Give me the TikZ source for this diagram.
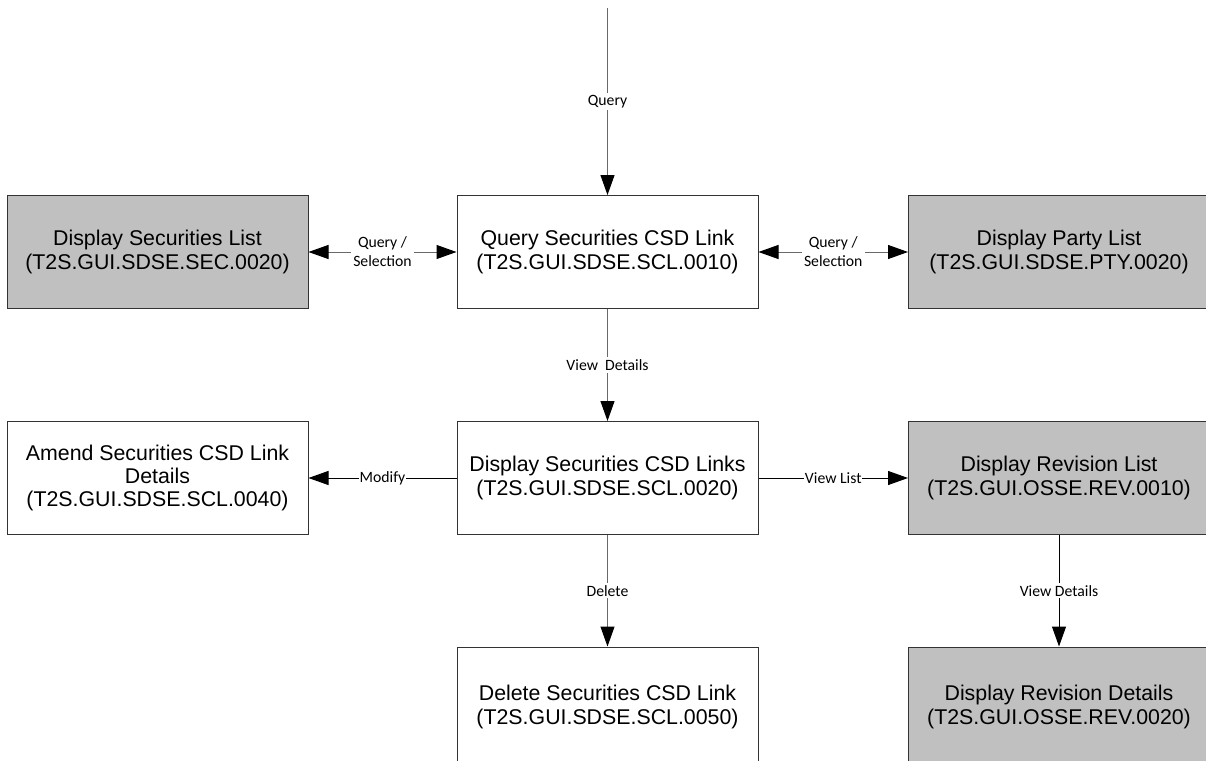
\documentclass[tikz,border=0pt]{standalone}
\usepackage{fontspec}
\setmainfont{Liberation Sans}
\newfontfamily\lblfont{Carlito}
\usetikzlibrary{arrows.meta}

\definecolor{boxgray}{RGB}{192,192,192}
\definecolor{linegray}{RGB}{105,105,105}

\tikzset{
	screen/.style={draw=black!80, line width=0.75pt, minimum width=225.75pt, minimum height=84.75pt,
		inner sep=0pt, align=center, font=\fontsize{16}{17.6}\selectfont},
	otherscreen/.style={screen, fill=boxgray},
	lowscreen/.style={minimum height=90pt}, % bottom row runs off the page
	flow/.style={draw=linegray, line width=0.75pt, -{Triangle[length=15pt,width=10.5pt,color=black]}},
	biflow/.style={flow, {Triangle[length=15pt,width=10.5pt,color=black]}-{Triangle[length=15pt,width=10.5pt,color=black]}},
	flowlbl/.style={fill=white, inner sep=1.5pt, align=center, font=\lblfont\fontsize{11.8}{14.3}\selectfont}
}

\begin{document}
\begin{tikzpicture}[x=0.75pt,y=-0.75pt]
	
	% picture frame (pixels)
	\useasboundingbox (0,0) rectangle (1206,760);
	
	% column and row positions
	\def\colL{157.5} % left column
	\def\colM{607.5} % middle column
	\def\colR{1059}  % right column
	\def\rowA{252}
	\def\rowB{478}
	\def\rowC{707}
	
	% screens
	\node[otherscreen] (seclist) at (\colL,\rowA) {Display Securities List\\(T2S.GUI.SDSE.SEC.0020)};
	\node[screen] (query) at (\colM,\rowA) {Query Securities CSD Link\\(T2S.GUI.SDSE.SCL.0010)};
	\node[otherscreen] (ptylist) at (\colR,\rowA) {Display Party List\\(T2S.GUI.SDSE.PTY.0020)};
	
	\node[screen] (amend) at (\colL,\rowB) {Amend Securities CSD Link\\Details\\(T2S.GUI.SDSE.SCL.0040)};
	\node[screen] (links) at (\colM,\rowB) {Display Securities CSD Links\\(T2S.GUI.SDSE.SCL.0020)};
	\node[otherscreen] (revlist) at (\colR,\rowB) {Display Revision List\\(T2S.GUI.OSSE.REV.0010)};
	
	\node[screen, lowscreen] (delete) at (\colM,\rowC) {Delete Securities CSD Link\\(T2S.GUI.SDSE.SCL.0050)};
	\node[otherscreen, lowscreen] (revdet) at (\colR,\rowC) {Display Revision Details\\(T2S.GUI.OSSE.REV.0020)};
	
	% entry
	\coordinate (entry) at (\colM,8);
	\draw[flow] (entry) -- (query) node[flowlbl, midway] {Query};
	
	% links between screens
	\draw[biflow] (seclist) -- (query) node[flowlbl, midway] {Query /\\Selection};
	\draw[biflow] (query) -- (ptylist) node[flowlbl, midway] {Query /\\Selection};
	\draw[flow] (query) -- (links) node[flowlbl, midway] {View\ \ Details};
	\draw[flow, draw=black] (links) -- (amend) node[flowlbl, midway, inner sep=0.5pt] {Modify};
	\draw[flow, draw=black] (links) -- (revlist) node[flowlbl, midway, inner sep=0.5pt] {View List};
	\draw[flow] (links) -- (delete) node[flowlbl, midway] {Delete};
	\draw[flow, draw=black] (revlist) -- (revdet) node[flowlbl, midway] {View Details};
	
\end{tikzpicture}
\end{document}
